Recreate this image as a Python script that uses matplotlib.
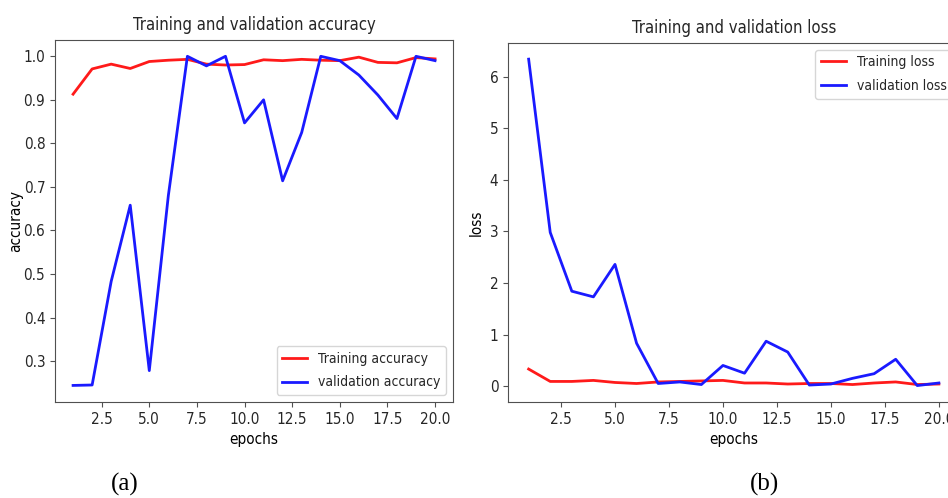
import matplotlib
matplotlib.use("Agg")
import matplotlib.pyplot as plt
from matplotlib import font_manager

# epochs 1..20
epochs = list(range(1, 21))

train_acc = [0.913, 0.971, 0.982, 0.972, 0.988, 0.991, 0.993, 0.982, 0.980, 0.981,
             0.992, 0.990, 0.993, 0.991, 0.990, 0.998, 0.986, 0.985, 0.997, 0.994]
val_acc = [0.244, 0.245, 0.483, 0.658, 0.278, 0.680, 1.000, 0.978, 1.000, 0.847,
           0.900, 0.714, 0.825, 1.000, 0.990, 0.957, 0.911, 0.857, 1.000, 0.990]

train_loss = [0.33, 0.09, 0.09, 0.11, 0.07, 0.05, 0.08, 0.09, 0.10, 0.11,
              0.06, 0.06, 0.04, 0.05, 0.05, 0.03, 0.06, 0.08, 0.03, 0.04]
val_loss = [6.34, 2.98, 1.84, 1.73, 2.36, 0.83, 0.05, 0.08, 0.03, 0.40,
            0.25, 0.87, 0.66, 0.02, 0.04, 0.15, 0.24, 0.52, 0.01, 0.06]

# pick a narrow sans if one is around, the reference text is squeezed
ttf = font_manager.fontManager.ttflist
if any(f.name == "DejaVu Sans" and f.stretch == "condensed" for f in ttf):
    plt.rcParams["font.family"] = "DejaVu Sans"
    plt.rcParams["font.stretch"] = "condensed"
elif any(f.name == "Liberation Sans Narrow" for f in ttf):
    plt.rcParams["font.family"] = "Liberation Sans Narrow"
else:
    plt.rcParams["font.family"] = "DejaVu Sans"

plt.rcParams["axes.edgecolor"] = "#505050"
plt.rcParams["text.color"] = "#262626"
plt.rcParams["xtick.color"] = "#505050"
plt.rcParams["ytick.color"] = "#505050"
plt.rcParams["xtick.labelcolor"] = "#262626"
plt.rcParams["ytick.labelcolor"] = "#262626"

fig = plt.figure(figsize=(9.48, 4.98), dpi=100)

"""
Panel (a): accuracy
"""
ax1 = fig.add_axes([0.058, 0.193, 0.420, 0.727])
ax1.plot(epochs, train_acc, color="#ff1a1a", lw=2.0, label="Training accuracy")
ax1.plot(epochs, val_acc, color="#1a1aff", lw=2.0, label="validation accuracy")
ax1.set_title("Training and validation accuracy", fontsize=12, pad=7)
ax1.set_xlabel("epochs", fontsize=11)
ax1.set_ylabel("accuracy", fontsize=11, labelpad=0)
ax1.set_xticks([2.5, 5.0, 7.5, 10.0, 12.5, 15.0, 17.5, 20.0])
ax1.set_yticks([0.3, 0.4, 0.5, 0.6, 0.7, 0.8, 0.9, 1.0])
ax1.tick_params(labelsize=11)
ax1.legend(loc="lower right", fontsize=10, handlelength=1.8, labelspacing=0.7)

"""
Panel (b): loss, the right side runs past the page edge
"""
ax2 = fig.add_axes([0.536, 0.193, 0.476, 0.721])
ax2.plot(epochs, train_loss, color="#ff1a1a", lw=2.0, label="Training loss")
ax2.plot(epochs, val_loss, color="#1a1aff", lw=2.0, label="validation loss")
ax2.set_title("Training and validation loss", fontsize=12, pad=7)
ax2.set_xlabel("epochs", fontsize=11)
ax2.set_ylabel("loss", fontsize=11, labelpad=4)
ax2.set_xticks([2.5, 5.0, 7.5, 10.0, 12.5, 15.0, 17.5, 20.0])
ax2.set_yticks([0, 1, 2, 3, 4, 5, 6])
ax2.tick_params(labelsize=11)
ax2.legend(loc="upper right", fontsize=10, handlelength=1.8, labelspacing=0.7)

fig.text(0.117, 0.014, "(a)", fontsize=18, family="Liberation Serif", color="black")
fig.text(0.791, 0.014, "(b)", fontsize=18, family="Liberation Serif", color="black")

fig.savefig("out.png", dpi=100)
